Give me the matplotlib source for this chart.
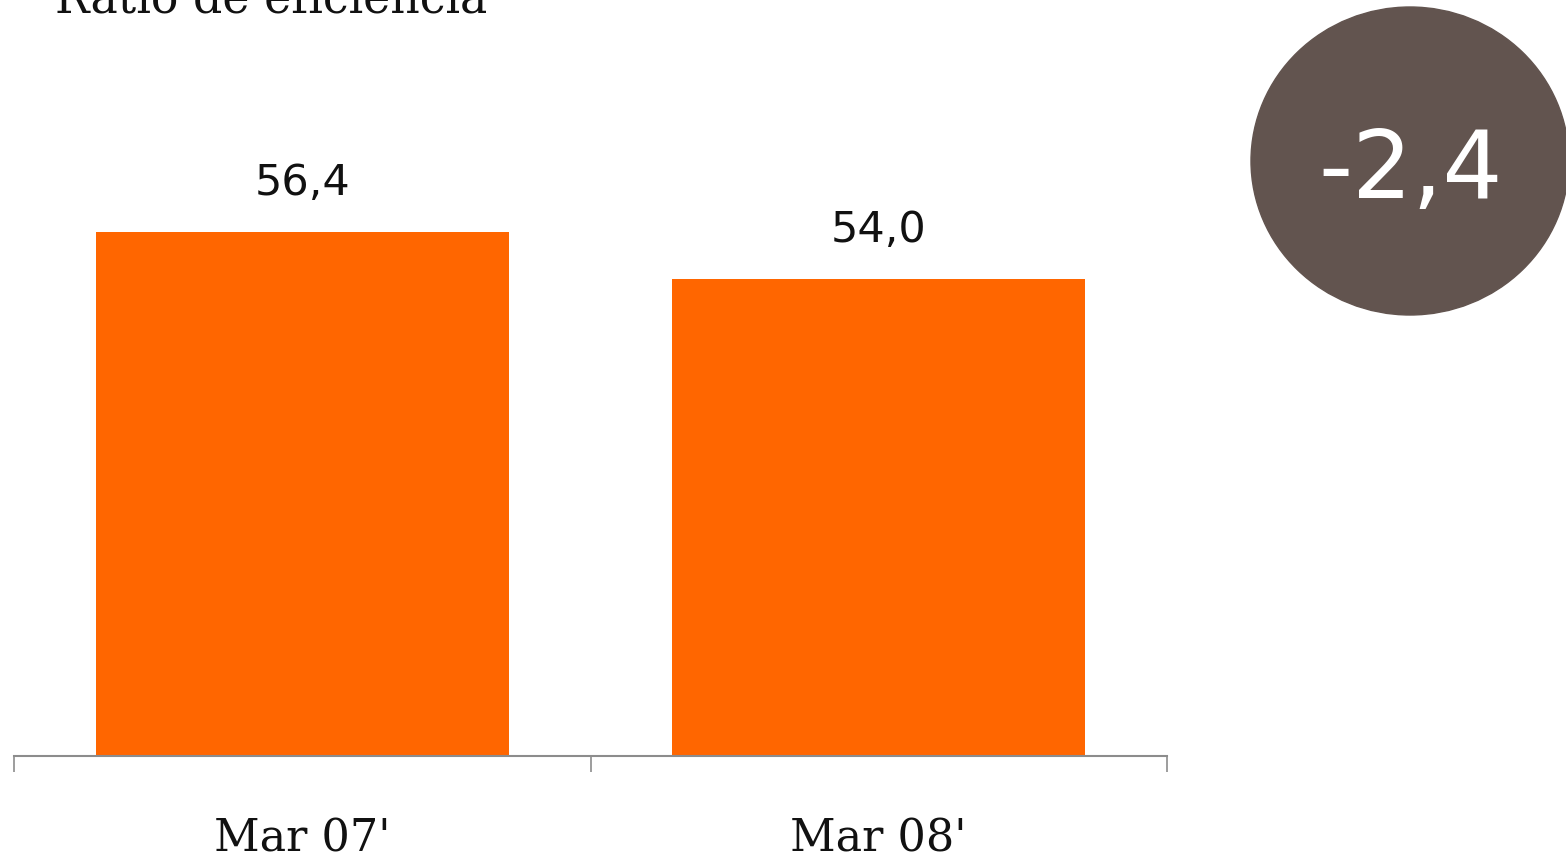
import matplotlib
matplotlib.use("Agg")
import matplotlib.pyplot as plt
from matplotlib.patches import Ellipse

categories = ["Mar 07'", "Mar 08'"]
values = [56.4, 54.0]
value_labels = ["56,4", "54,0"]
delta_label = "-2,4"
title = "Ratio de eficiencia"

BAR_COLOR = "#FF6600"
CIRCLE_COLOR = "#62544F"
AXIS_COLOR = "#8C8C8C"

fig = plt.figure(figsize=(15.66, 8.59), dpi=100)
ax = fig.add_axes([14/1566, 103/859, 1153/1566, 756/859])

x = list(range(len(categories)))
ax.bar(x, values, width=0.716, color=BAR_COLOR, zorder=2)
ax.set_xlim(-0.5, len(categories) - 0.5)
ax.set_ylim(29.64, 68.25)

for xi, v, lab in zip(x, values, value_labels):
    ax.annotate(lab, (xi, v), xytext=(0, 26.5), textcoords="offset points",
                ha="center", va="baseline", fontsize=31, family="DejaVu Sans",
                color="#111111")

for s in ["top", "right", "left"]:
    ax.spines[s].set_visible(False)
ax.spines["bottom"].set_color(AXIS_COLOR)
ax.spines["bottom"].set_linewidth(1.5)
ax.set_yticks([])
ax.set_xticks(x)
ax.set_xticklabels(categories, fontsize=32, family="DejaVu Serif", color="#111111")
ax.tick_params(axis="x", which="major", length=0, pad=44)
ax.set_xticks([i - 0.5 for i in range(len(categories) + 1)], minor=True)
ax.tick_params(axis="x", which="minor", length=11.5, width=1.2, color=AXIS_COLOR)

fig.text(55/1566, 1 - 12.7/859, title, fontsize=33, family="DejaVu Serif",
         ha="left", va="baseline", color="#111111")

circ = Ellipse((1410/1566, 1 - 161/859), 318/1566, 308/859,
               transform=fig.transFigure, color=CIRCLE_COLOR, clip_on=False)
fig.patches.append(circ)
fig.text(1411/1566, 1 - 198/859, delta_label, fontsize=68, family="DejaVu Sans",
         color="white", ha="center", va="baseline")

fig.savefig("out.png", dpi=100)
